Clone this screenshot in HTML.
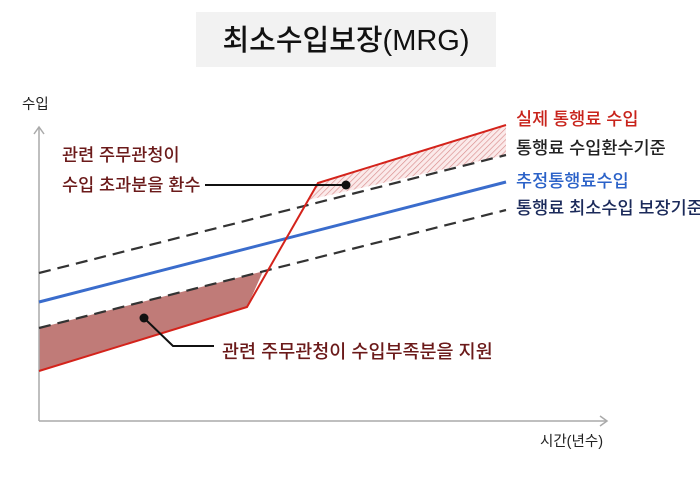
<!DOCTYPE html>
<html><head><meta charset="utf-8"><style>
body{margin:0;background:#fff;width:700px;height:477px;overflow:hidden}
svg text{font-family:"Liberation Sans","Noto Sans CJK KR",sans-serif}
.l{font-size:17.5px;font-weight:500}
</style></head><body>
<svg width="700" height="477" viewBox="0 0 700 477">
<defs>
<pattern id="h" width="4" height="4" patternUnits="userSpaceOnUse" patternTransform="rotate(45)">
<rect width="4" height="4" fill="#fbeaea"/><line x1="0" y1="0" x2="0" y2="4" stroke="#d98c8c" stroke-width="1.3"/>
</pattern>
</defs>
<rect x="196" y="12" width="300" height="55" fill="#f2f2f2"/>
<text x="346" y="50" font-size="29" font-weight="500" text-anchor="middle" fill="#111">최소수입보장(MRG)</text>
<text x="22" y="109" font-size="14.5" fill="#222">수입</text>
<text x="540" y="446" font-size="14.5" fill="#222">시간(년수)</text>
<polygon points="39,328 263,271.4 247,307 39,371" fill="#c07b78"/>
<polygon points="309,199.8 318,183 506,125 506,155" fill="url(#h)"/>
<line x1="39" y1="127" x2="39" y2="421" stroke="#aaa" stroke-width="1.5"/>
<line x1="39" y1="421" x2="606" y2="421" stroke="#aaa" stroke-width="1.5"/>
<polyline points="34,134 39,127 44,134" fill="none" stroke="#aaa" stroke-width="1.5"/>
<polyline points="600,416 607,421 600,426" fill="none" stroke="#aaa" stroke-width="1.5"/>
<line x1="39" y1="273" x2="506" y2="155" stroke="#333" stroke-width="2.2" stroke-dasharray="12,7"/>
<line x1="39" y1="302" x2="506" y2="182" stroke="#3a6ccc" stroke-width="3"/>
<line x1="39" y1="328" x2="506" y2="210" stroke="#333" stroke-width="2.2" stroke-dasharray="12,7"/>
<polyline points="39,371 247,307 318,183 506,125" fill="none" stroke="#d4231b" stroke-width="2"/>
<line x1="205" y1="185" x2="346" y2="185" stroke="#111" stroke-width="2"/>
<circle cx="346" cy="185" r="4.5" fill="#111"/>
<polyline points="144,318 173,346 214,346" fill="none" stroke="#111" stroke-width="2"/>
<circle cx="144" cy="318" r="4.5" fill="#111"/>
<text class="l" x="62" y="161" fill="#6b1a1a">관련 주무관청이</text>
<text class="l" x="62" y="191" fill="#6b1a1a">수입 초과분을 환수</text>
<text class="l" x="222" y="358" fill="#6b1a1a" style="font-size:18.5px">관련 주무관청이 수입부족분을 지원</text>
<text class="l" x="516" y="125" fill="#c8231b">실제 통행료 수입</text>
<text class="l" x="516" y="154" fill="#222">통행료 수입환수기준</text>
<text class="l" x="516" y="187" fill="#2b62c8">추정통행료수입</text>
<text class="l" x="516" y="214" fill="#1b2a5a">통행료 최소수입 보장기준</text>
</svg>
</body></html>
